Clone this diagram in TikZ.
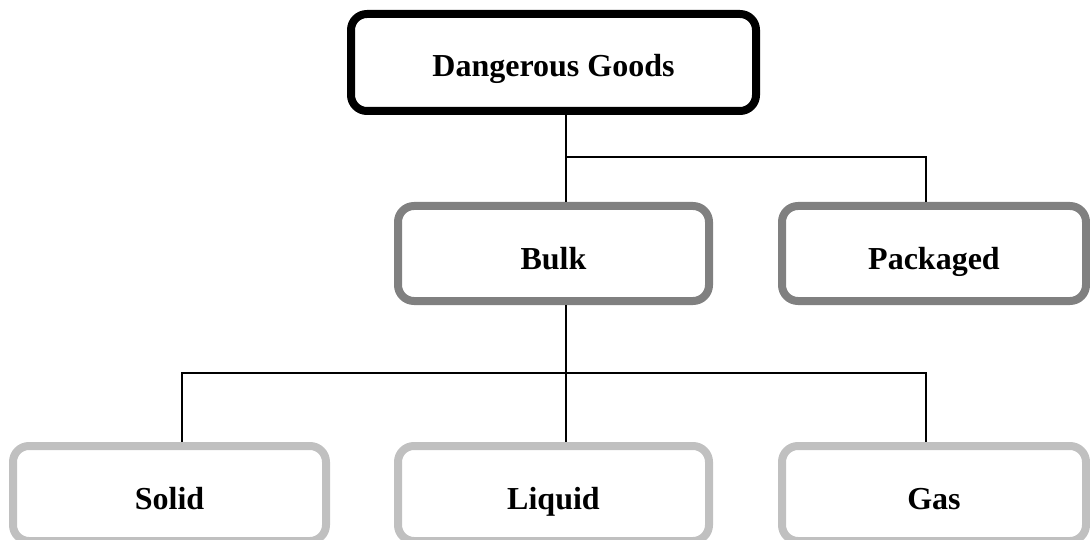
\documentclass[tikz,border=0pt]{standalone}
\usepackage{fontspec}
\setmainfont{Liberation Serif}
\definecolor{midgray}{HTML}{808080}
\definecolor{lightgray2}{HTML}{C0C0C0}
\begin{document}
\begin{tikzpicture}[x=1pt,y=-1pt,
  box/.style={draw, rectangle, rounded corners=16pt, line width=8pt, fill=white,
    inner sep=0pt, text height=32pt, text depth=0pt,
    font=\fontsize{32}{37}\selectfont\bfseries},
  conn/.style={draw=black, line width=1.7pt}]
\useasboundingbox (0,0) rectangle (1090,540);
\clip (0,0) rectangle (1090,540);
\node[box, draw=black, minimum width=405pt, minimum height=97pt, text height=29pt] (dg) at (553.5,62.5) {Dangerous Goods};
\node[box, draw=midgray, minimum width=311pt, minimum height=95pt] (bulk) at (553.5,253.5) {Bulk};
\node[box, draw=midgray, minimum width=304pt, minimum height=95pt] (pack) at (934,253.5) {Packaged};
\node[box, draw=lightgray2, minimum width=313pt, minimum height=95pt] (solid) at (169.5,493.5) {Solid};
\node[box, draw=lightgray2, minimum width=311pt, minimum height=95pt] (liquid) at (553.5,493.5) {Liquid};
\node[box, draw=lightgray2, minimum width=304pt, minimum height=95pt] (gas) at (934,493.5) {Gas};
\coordinate (j1) at (566,157);
\coordinate (pk) at (926,157);
\coordinate (j2) at (566,373);
\coordinate (sl) at (182,373);
\coordinate (gs) at (926,373);
\draw[conn] (dg.south -| j1) -- (bulk.north -| j1);
\draw[conn] (j1) -- (pk) -- (pack.north -| pk);
\draw[conn] (bulk.south -| j2) -- (liquid.north -| j2);
\draw[conn] (solid.north -| sl) -- (sl) -- (gs) -- (gas.north -| gs);
\end{tikzpicture}
\end{document}
